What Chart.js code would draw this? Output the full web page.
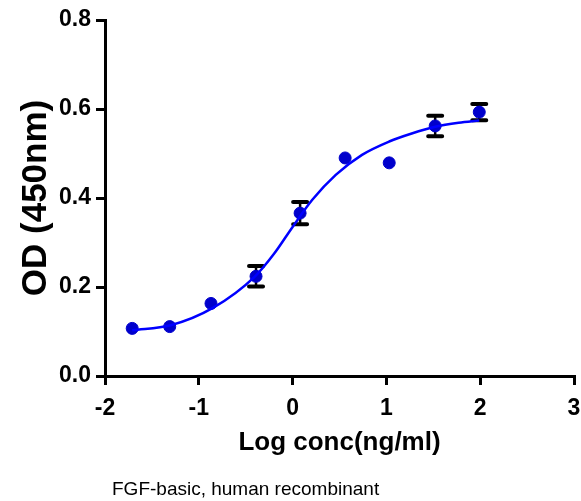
<!DOCTYPE html>
<html>
<head>
<meta charset="utf-8">
<script src="https://cdn.jsdelivr.net/npm/chart.js@4/dist/chart.umd.min.js"></script>
<style>
  html, body { margin: 0; padding: 0; background: #fff; }
  #wrap { width: 581px; height: 501px; }
</style>
</head>
<body>
<div id="wrap"><canvas id="od-chart"></canvas></div>
<script>
// measured points (log ng/ml vs OD450)
const logConc = [-1.71, -1.31, -0.87, -0.39, 0.08, 0.56, 1.03, 1.52, 1.99];
const odMean = [0.107, 0.111, 0.163, 0.224, 0.366, 0.490, 0.479, 0.562, 0.593];
const odErr = [0, 0, 0, 0.023, 0.025, 0, 0, 0.023, 0.018];

// fitted curve
const fitX = [-1.71, -1.30, -0.85, -0.40, -0.20, 0.00, 0.21, 0.46, 0.74, 1.03, 1.27, 1.52, 1.77, 1.99];
const fitY = [0.103, 0.114, 0.153, 0.224, 0.274, 0.335, 0.396, 0.452, 0.497, 0.527, 0.545, 0.560, 0.569, 0.574];

const xTicks = [-2, -1, 0, 1, 2, 3];
const yTicks = [0.0, 0.2, 0.4, 0.6, 0.8];
const caption = 'FGF-basic, human recombinant';

const errorBars = {
    id: 'errorBars',
    beforeDatasetsDraw(chart) {
        const ctx = chart.ctx;
        const xs = chart.scales.x, ys = chart.scales.y;
        ctx.save();
        ctx.strokeStyle = '#000';
        ctx.lineCap = 'round';
        logConc.forEach(function (lx, i) {
            if (!odErr[i]) return;
            const px = xs.getPixelForValue(lx);
            const top = ys.getPixelForValue(odMean[i] + odErr[i]);
            const bot = ys.getPixelForValue(odMean[i] - odErr[i]);
            ctx.lineWidth = 2.5;
            ctx.beginPath();
            ctx.moveTo(px, top); ctx.lineTo(px, bot);
            ctx.stroke();
            ctx.lineWidth = 4;
            ctx.beginPath();
            ctx.moveTo(px - 7, top); ctx.lineTo(px + 7, top);
            ctx.moveTo(px - 7, bot); ctx.lineTo(px + 7, bot);
            ctx.stroke();
        });
        ctx.restore();
    }
};

// caption under the x axis title
const captionText = {
    id: 'captionText',
    afterDraw(chart) {
        const ctx = chart.ctx;
        ctx.save();
        ctx.fillStyle = '#000';
        ctx.font = '19px Arial, "Liberation Sans"';
        ctx.textAlign = 'left';
        ctx.textBaseline = 'alphabetic';
        ctx.fillText(caption, chart.chartArea.left + 7, chart.height - 6);
        ctx.restore();
    }
};

const ctx = document.getElementById('od-chart').getContext('2d');
const odChart = new Chart(ctx, {
    type: 'scatter',
    data: {
        datasets: [{
            type: 'line',
            label: 'fit',
            data: fitX.map((x, i) => ({x: x, y: fitY[i]})),
            borderColor: 'rgb(0, 0, 255)',
            borderWidth: 2.5,
            pointRadius: 0,
            cubicInterpolationMode: 'monotone',
            fill: false
        }, {
            label: 'OD',
            data: logConc.map((x, i) => ({x: x, y: odMean[i]})),
            backgroundColor: 'rgb(0, 0, 204)',
            borderColor: 'rgb(0, 0, 204)',
            pointRadius: 6,
            pointHoverRadius: 6
        }]
    },
    options: {
        responsive: true,
        maintainAspectRatio: false,
        animation: false,
        layout: { padding: { left: 16, right: 5, top: 20, bottom: 25 } },
        plugins: {
            legend: { display: false },
            tooltip: { enabled: false }
        },
        scales: {
            x: {
                type: 'linear',
                min: -2,
                max: 3,
                afterBuildTicks: s => { s.ticks = xTicks.map(v => ({value: v})); },
                afterFit: s => { s.height = 100; s.paddingRight = 0; },
                ticks: {
                    color: '#000',
                    padding: 10,
                    font: { family: 'Arial, "Liberation Sans"', size: 23, weight: 'bold' },
                    callback: v => String(v)
                },
                grid: { drawOnChartArea: false, drawTicks: true, tickLength: 9, color: '#000', lineWidth: 3 },
                border: { color: '#000', width: 3 },
                title: {
                    display: true,
                    text: 'Log conc(ng/ml)',
                    color: '#000',
                    font: { family: 'Arial, "Liberation Sans"', size: 26, weight: 'bold' },
                    padding: { top: 0, bottom: 18 }
                }
            },
            y: {
                type: 'linear',
                min: 0,
                max: 0.8,
                afterBuildTicks: s => { s.ticks = yTicks.map(v => ({value: v})); },
                afterFit: s => { s.width = 89; },
                ticks: {
                    color: '#000',
                    padding: 5,
                    font: { family: 'Arial, "Liberation Sans"', size: 23, weight: 'bold' },
                    callback: v => Number(v).toFixed(1)
                },
                grid: { drawOnChartArea: false, drawTicks: true, tickLength: 9, color: '#000', lineWidth: 3 },
                border: { color: '#000', width: 3 },
                title: {
                    display: true,
                    text: 'OD (450nm)',
                    color: '#000',
                    font: { family: 'Arial, "Liberation Sans"', size: 35, weight: 'bold', lineHeight: 1.1 },
                    padding: { top: 1, bottom: 0 }
                }
            }
        }
    },
    plugins: [errorBars, captionText]
});
</script>
</body>
</html>
